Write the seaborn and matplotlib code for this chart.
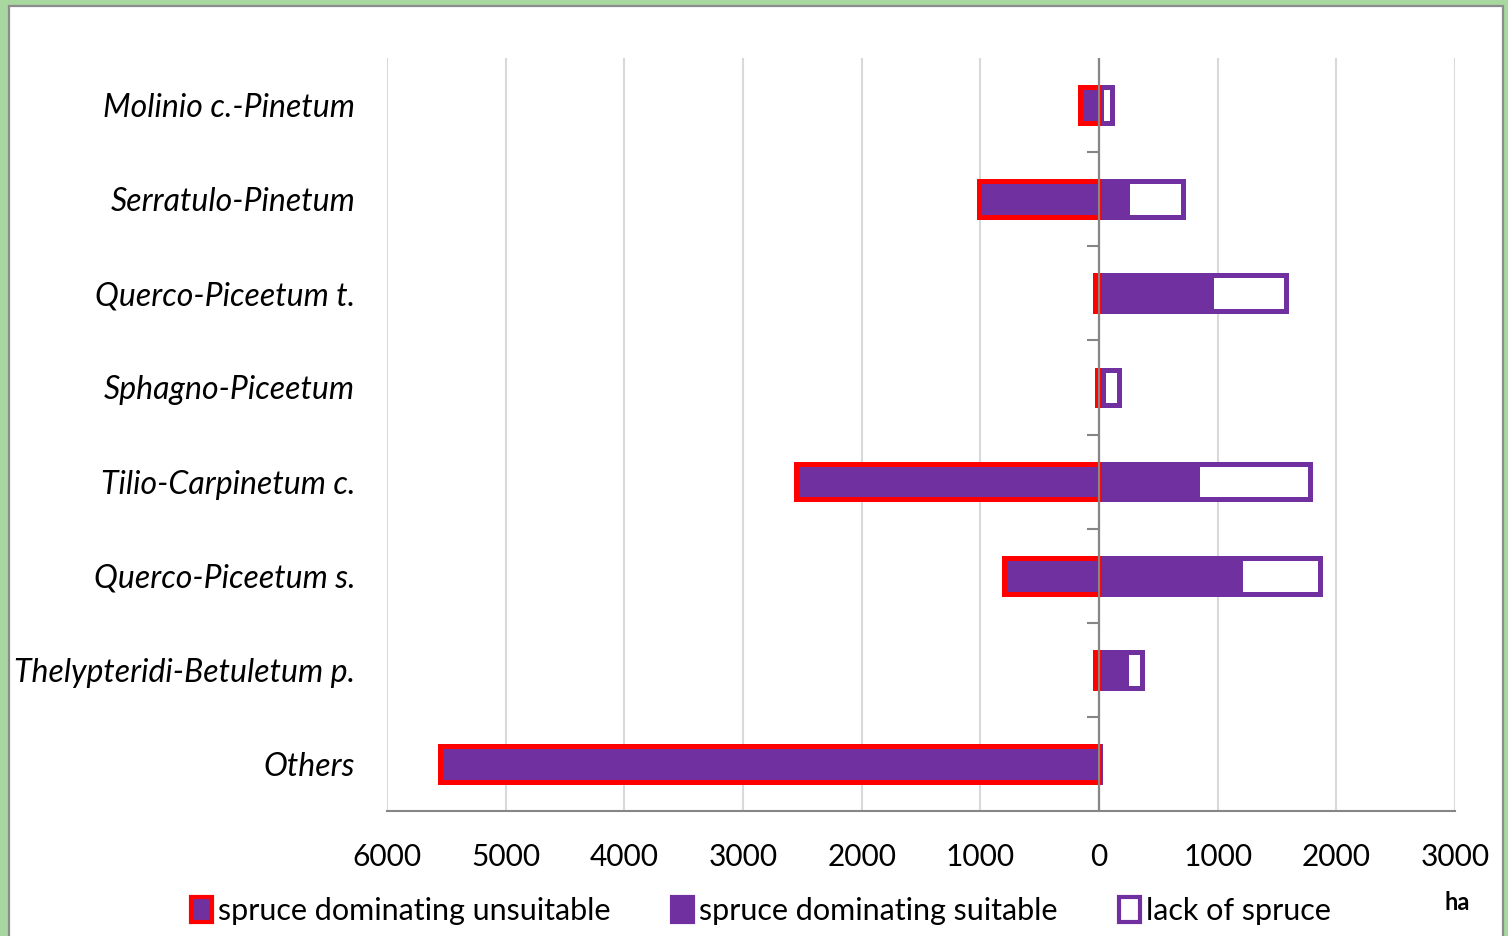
import pandas as pd
import matplotlib.pyplot as plt
import seaborn as sns
from matplotlib.patches import Patch, Rectangle
from matplotlib.ticker import FuncFormatter, FixedLocator

# data (ha)
categories = [
    "Molinio c.-Pinetum",
    "Serratulo-Pinetum",
    "Querco-Piceetum t.",
    "Sphagno-Piceetum",
    "Tilio-Carpinetum c.",
    "Querco-Piceetum s.",
    "Thelypteridi-Betuletum p.",
    "Others",
]
unsuitable = [160, 1010, 30, 15, 2550, 800, 30, 5550]
suitable = [20, 240, 945, 30, 830, 1190, 230, 0]
lack = [90, 470, 630, 140, 950, 670, 135, 10]
x_ticks = [-6000, -5000, -4000, -3000, -2000, -1000, 0, 1000, 2000, 3000]

PURPLE = "#7030A0"
RED = "#FF0000"
GRID = "#D9D9D9"
AXIS = "#868686"


def build_frame():
    df = pd.DataFrame({"category": categories, "unsuitable": unsuitable,
                       "suitable": suitable, "lack": lack})
    df["neg"] = -df["unsuitable"]
    df["total"] = df["suitable"] + df["lack"]
    return df


def plot_chart(df):
    fig = plt.figure(figsize=(15.08, 9.36), dpi=100)
    fig.patch.set_facecolor("#A8D8A0")
    fig.patches.append(Rectangle((9 / 1508, -0.01), 1494 / 1508, 1 - 6 / 936 + 0.01,
                                 transform=fig.transFigure, facecolor="white",
                                 edgecolor="#8C8C8C", linewidth=1.6, zorder=-10))
    ax = fig.add_axes([387 / 1508, 1 - 811 / 936, (1455 - 387) / 1508, (811 - 58) / 936])
    ax.set_facecolor("none")

    bar_w = 0.38
    lw = 3.6
    # stacked right side: total (white, purple edge) then suitable on top
    sns.barplot(data=df, x="total", y="category", orient="h", width=bar_w,
                color="white", edgecolor=PURPLE, linewidth=lw, saturation=1,
                ax=ax, zorder=2)
    sns.barplot(data=df, x="suitable", y="category", orient="h", width=bar_w,
                color=PURPLE, edgecolor=PURPLE, linewidth=lw, saturation=1,
                ax=ax, zorder=3)
    sns.barplot(data=df, x="neg", y="category", orient="h", width=bar_w,
                color=PURPLE, edgecolor=RED, linewidth=lw, saturation=1,
                ax=ax, zorder=3)

    ax.set_xlim(-6000, 3000)
    ax.set_ylim(len(categories) - 0.5, -0.5)
    ax.set_xticks(x_ticks)
    ax.xaxis.set_major_formatter(FuncFormatter(lambda v, p: f"{abs(int(v))}"))
    ax.set_xlabel("")
    ax.set_ylabel("")

    ax.grid(axis="x", color=GRID, linewidth=1.5, zorder=0)
    ax.grid(axis="y", visible=False)
    ax.set_axisbelow(True)
    for side in ["top", "right", "left"]:
        ax.spines[side].set_visible(False)
    ax.spines["bottom"].set_color(AXIS)
    ax.spines["bottom"].set_linewidth(1.5)
    ax.tick_params(axis="x", colors=AXIS, length=9, width=1.5, labelcolor="black",
                   labelsize=21.5, pad=14)
    ax.tick_params(axis="y", length=0, pad=23, labelsize=23, labelcolor="black")
    for lbl in ax.get_yticklabels():
        lbl.set_fontstyle("italic")

    # vertical zero axis with category separator ticks
    ax.axvline(0, color=AXIS, linewidth=1.6, zorder=5)
    ax2 = ax.twinx()
    ax2.set_ylim(ax.get_ylim())
    for side in ["top", "left", "bottom", "right"]:
        ax2.spines[side].set_visible(False)
    ax2.spines["right"].set_position(("data", 0))
    ax2.yaxis.set_major_locator(FixedLocator([i + 0.5 for i in range(len(categories) - 1)]))
    ax2.tick_params(axis="y", direction="in", length=9, width=1.5, colors=AXIS,
                    labelright=False)
    ax2.grid(False)

    handles = [
        Patch(facecolor=PURPLE, edgecolor=RED, linewidth=3),
        Patch(facecolor=PURPLE, edgecolor=PURPLE, linewidth=3),
        Patch(facecolor="white", edgecolor=PURPLE, linewidth=3),
    ]
    labels = ["spruce dominating unsuitable", "spruce dominating suitable", "lack of spruce"]
    fig.legend(handles, labels, loc="center", bbox_to_anchor=(761 / 1508, 1 - 911 / 936),
               ncol=3, frameon=False, fontsize=22, handlelength=0.7, handleheight=0.9,
               handletextpad=0.2, columnspacing=2.0, labelcolor="black")
    fig.text(1457 / 1508, 1 - 903 / 936, "ha", ha="center", va="center",
             fontsize=17, fontweight="bold", color="black")

    fig.savefig("out.png", dpi=100, facecolor=fig.get_facecolor())
    plt.close(fig)


if __name__ == "__main__":
    sns.set_theme(style="white")
    plt.rcParams["font.family"] = ["Lato", "DejaVu Sans"]
    df = build_frame()
    plot_chart(df)
